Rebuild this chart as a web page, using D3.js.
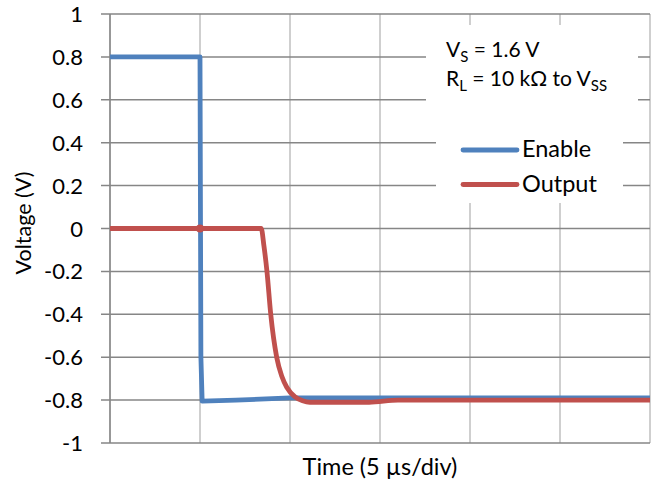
<!DOCTYPE html>
<html>
<head>
<meta charset="utf-8">
<script src="https://cdn.jsdelivr.net/npm/d3@7"></script>
<style>
  body { margin: 0; background: #fff; }
  text { font-family: Lato, "Open Sans", sans-serif; fill: #000; }
</style>
</head>
<body>
<svg class="chart"></svg>
<script>
// Data (time in µs, 5 µs per division; voltage in V)

var yTicks = [1, 0.8, 0.6, 0.4, 0.2, 0, -0.2, -0.4, -0.6, -0.8, -1];
var xDivs = [0, 5, 10, 15, 20, 25, 30];

var enableT = [0, 5.0, 5.05, 5.12, 7, 10, 15, 20, 25, 30];
var enableV = [0.8, 0.8, -0.6, -0.805, -0.8, -0.79, -0.79, -0.79, -0.79, -0.79];

var outputT = [0, 5, 8.4, 8.55, 8.72, 8.93, 9.26, 9.55, 9.82, 10.28, 10.7, 11.1, 14.4, 16, 30];
var outputV = [0, 0, 0, -0.08, -0.2, -0.4, -0.6, -0.69, -0.74, -0.785, -0.803, -0.81, -0.81, -0.8, -0.8];

var markerT = [5], markerV = [0];

var seriesNames = ["Enable", "Output"];
var seriesColors = ["#4f81bd", "#c0504d"];

// Dimensions

var margin = {top: 14, bottom: 42, left: 110, right: 8};
var width = 658 - margin.left - margin.right,
	height = 485 - margin.top - margin.bottom,
	lineWidth = 4.8;

var svg = d3.select(".chart")
	.attr("width", 658)
	.attr("height", 485);

var chart = svg.append("g")
	.attr("transform", "translate(" + margin.left + "," + margin.top + ")");

var x = d3.scaleLinear().domain([0, 30]).range([0, width]);
var y = d3.scaleLinear().domain([-1, 1]).range([height, 0]);

// Vertical gridlines (light)

chart.selectAll(".vgrid")
	.data(xDivs)
.enter().append("line")
	.attr("x1", function(d) { return x(d); })
	.attr("x2", function(d) { return x(d); })
	.attr("y1", 0)
	.attr("y2", height)
	.style("stroke", "#bfbfbf")
	.style("stroke-width", 1.5);

// Horizontal gridlines with ticks (darker)

chart.selectAll(".hgrid")
	.data(yTicks)
.enter().append("line")
	.attr("x1", -9)
	.attr("x2", width)
	.attr("y1", function(d) { return y(d); })
	.attr("y2", function(d) { return y(d); })
	.style("stroke", "#868686")
	.style("stroke-width", 1.5);

// Left axis line

chart.append("line")
	.attr("x1", 0).attr("x2", 0)
	.attr("y1", 0).attr("y2", height)
	.style("stroke", "#868686")
	.style("stroke-width", 1.5);

// Tick labels

chart.selectAll(".ylab")
	.data(yTicks)
.enter().append("text")
	.attr("x", -27)
	.attr("y", function(d) { return y(d); })
	.attr("dy", "8px")
	.style("text-anchor", "end")
	.style("font-size", "22px")
	.text(function(d) { return d; });

// Axis titles

svg.append("text")
	.attr("transform", "translate(31,223) rotate(-90)")
	.style("text-anchor", "middle")
	.style("font-size", "21.5px")
	.text("Voltage (V)");

svg.append("text")
	.attr("x", margin.left + width / 2)
	.attr("y", 475)
	.style("text-anchor", "middle")
	.style("font-size", "23.5px")
	.text("Time (5 \u00b5s/div)");

// Traces

var line = d3.line()
	.x(function(d) { return x(d[0]); })
	.y(function(d) { return y(d[1]); })
	.curve(d3.curveMonotoneX);

var enableData = d3.zip(enableT, enableV),
	outputData = d3.zip(outputT, outputV);

chart.append("path")
	.datum(enableData)
	.attr("d", d3.line().x(function(d) { return x(d[0]); }).y(function(d) { return y(d[1]); }))
	.style("fill", "none")
	.style("stroke", seriesColors[0])
	.style("stroke-width", lineWidth)
	.style("stroke-linejoin", "round");

chart.append("path")
	.datum(outputData)
	.attr("d", line)
	.style("fill", "none")
	.style("stroke", seriesColors[1])
	.style("stroke-width", lineWidth)
	.style("stroke-linejoin", "round");

chart.selectAll(".marker")
	.data(d3.zip(markerT, markerV))
.enter().append("circle")
	.attr("cx", function(d) { return x(d[0]); })
	.attr("cy", function(d) { return y(d[1]); })
	.attr("r", 4)
	.style("fill", seriesColors[1]);

// Annotation and legend boxes (white, hide gridlines)

svg.append("rect")
	.attr("x", 426).attr("y", 25)
	.attr("width", 212).attr("height", 100)
	.style("fill", "#fff");

svg.append("rect")
	.attr("x", 436).attr("y", 120)
	.attr("width", 187).attr("height", 83)
	.style("fill", "#fff");

var note = svg.append("g").style("font-size", "21px");

var t1 = note.append("text").attr("x", 446).attr("y", 57);
t1.append("tspan").text("V");
t1.append("tspan").attr("dy", 5).style("font-size", "15px").text("S");
t1.append("tspan").attr("dy", -5).text(" = 1.6 V");

var t2 = note.append("text").attr("x", 446).attr("y", 86);
t2.append("tspan").text("R");
t2.append("tspan").attr("dy", 5).style("font-size", "15px").text("L");
t2.append("tspan").attr("dy", -5).text(" = 10 k\u03a9 to V");
t2.append("tspan").attr("dy", 5).style("font-size", "15px").text("SS");

var legend = svg.selectAll(".legend")
	.data(seriesNames)
.enter().append("g")
	.attr("transform", function(d, i) { return "translate(463," + (150 + i * 34.5) + ")"; });

legend.append("line")
	.attr("x1", 0).attr("x2", 54)
	.attr("y1", 0).attr("y2", 0)
	.style("stroke", function(d, i) { return seriesColors[i]; })
	.style("stroke-width", lineWidth)
	.style("stroke-linecap", "round");

legend.append("text")
	.attr("x", 59)
	.attr("y", 0)
	.attr("dy", "7px")
	.style("font-size", "23.5px")
	.text(function(d) { return d; });
</script>
</body>
</html>
